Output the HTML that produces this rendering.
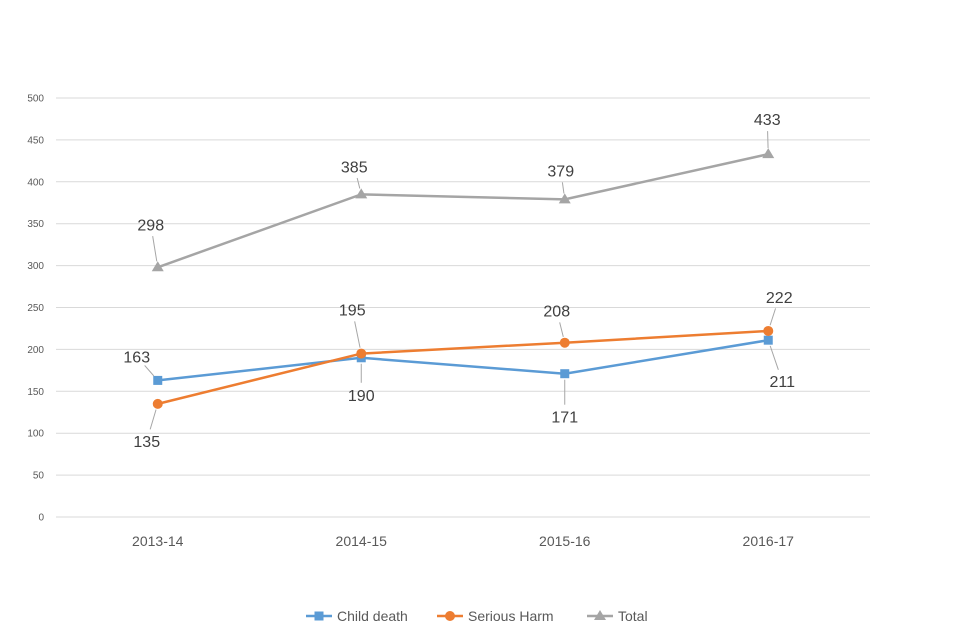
<!DOCTYPE html>
<html><head><meta charset="utf-8"><style>
body{margin:0;background:#fff;}
svg{display:block;font-family:"Liberation Sans",sans-serif;}
</style></head><body>
<svg id="chart" width="960" height="640"></svg>
<script>
const categories=["2013-14","2014-15","2015-16","2016-17"];
const childDeath=[163,190,171,211];
const seriousHarm=[135,195,208,222];
const total=[298,385,379,433];
const yTicks=[0,50,100,150,200,250,300,350,400,450,500];
const seriesNames=["Child death","Serious Harm","Total"];

const NS="http://www.w3.org/2000/svg";
const svg=document.getElementById('chart');
const L=56,R=870,T=98,B=517,yMax=500;
const bw=(R-L)/categories.length;
const x=i=>L+bw*(i+0.5);
const y=v=>B-(v/yMax)*(B-T);
function mk(t,a,p){const e=document.createElementNS(NS,t);for(const k in a)e.setAttribute(k,a[k]);(p||svg).appendChild(e);return e;}

yTicks.forEach(t=>{
  const g=mk('line',{x1:L,x2:R,y1:y(t),y2:y(t),stroke:'#d9d9d9','stroke-width':1});
  
  
  const lb=mk('text',{x:44,y:y(t)+3.5,'text-anchor':'end','font-size':10,fill:'#595959'});
  lb.textContent=t;
  
  
});
categories.forEach((c,i)=>{
  const lb=mk('text',{x:x(i),y:546,'text-anchor':'middle','font-size':14,fill:'#595959'});
  lb.textContent=c;
  
  
});

const offs=[
  [[-21,-24],[0,37],[0,43],[14,41]],
  [[-11,37],[-9,-44],[-8,-32],[11,-34]],
  [[-7,-43],[-7,-28],[-4,-29],[-1,-35]]
];
const colors=['#5b9bd5','#ed7d31','#a5a5a5'];
const data=[childDeath,seriousHarm,total];
const names=['child-death','serious-harm','total'];

data.forEach((d,s)=>{
  const pts=d.map((v,i)=>x(i)+','+y(v)).join(' ');
  const pl=mk('polyline',{points:pts,fill:'none',stroke:colors[s],'stroke-width':2.5});
  
  
});
data.forEach((d,s)=>{
  d.forEach((v,i)=>{
    const cx=x(i),cy=y(v);let m;
    if(s===0)m=mk('rect',{x:cx-4.5,y:cy-4.5,width:9,height:9,fill:colors[s]});
    else if(s===1)m=mk('circle',{cx:cx,cy:cy,r:5,fill:colors[s]});
    else m=mk('polygon',{points:`${cx},${cy-6} ${cx+6},${cy+4} ${cx-6},${cy+4}`,fill:colors[s]});
    
    
    const [dx,dy]=offs[s][i];
    const lx=cx+dx,ly=cy+dy;
    const dist=Math.hypot(dx,dy);
    if(dist>25){
      const ux=dx/dist,uy=dy/dist;
      const ln=mk('line',{x1:cx+ux*6,y1:cy+uy*6,x2:lx-ux*12,y2:ly-uy*12,stroke:'#a6a6a6','stroke-width':1});
      
      
    }
    const t=mk('text',{x:lx,y:ly+6,'text-anchor':'middle','font-size':16,fill:'#404040'});
    t.textContent=v;
    
    
  });
});

const lx0=[306,437,587];
seriesNames.forEach((n,s)=>{
  const g=mk('g',{});
  
  
  const y0=616,x0=lx0[s];
  mk('line',{x1:x0,x2:x0+26,y1:y0,y2:y0,stroke:colors[s],'stroke-width':2.5},g);
  const cx=x0+13;
  if(s===0)mk('rect',{x:cx-4.5,y:y0-4.5,width:9,height:9,fill:colors[s]},g);
  else if(s===1)mk('circle',{cx:cx,cy:y0,r:5,fill:colors[s]},g);
  else mk('polygon',{points:`${cx},${y0-6} ${cx+6},${y0+4} ${cx-6},${y0+4}`,fill:colors[s]},g);
  const t=mk('text',{x:x0+31,y:y0+5,'font-size':14,fill:'#595959'},g);
  t.textContent=n;
});
</script>
</body></html>
